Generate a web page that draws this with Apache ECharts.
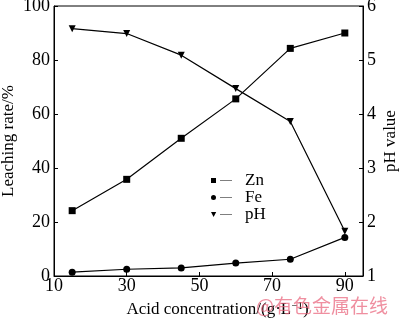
<!DOCTYPE html>
<html>
<head>
<meta charset="utf-8">
<script src="https://cdn.jsdelivr.net/npm/echarts@6/dist/echarts.min.js"></script>
<style>
  html, body { margin: 0; padding: 0; background: #fff; }
  #chart { width: 400px; height: 322px; }
</style>
</head>
<body>
<div id="chart"></div>
<script>
  // acid concentration, g/L
  var acidConc = [15, 30, 45, 60, 75, 90]
  // leaching rate, %
  var znRate = [24.2, 35.8, 51, 65.6, 84.3, 90]
  var feRate = [1.4, 2.5, 3, 4.8, 6.2, 14.3]
  // pH value
  var phValue = [5.58, 5.49, 5.09, 4.47, 3.86, 1.83]

  var serif = '"Liberation Serif", "Times New Roman", serif'
  var lineRest = ' M9,2.2H21V2.8H9Z'
  var icons = {
    Zn: 'path://M0,0H5V5H0Z' + lineRest,
    Fe: 'path://M0,2.5A2.5,2.5,0,1,1,5,2.5A2.5,2.5,0,1,1,0,2.5Z' + lineRest,
    pH: 'path://M0,0H5.2L2.6,5Z' + lineRest,
  }

  function pairs(ys) {
    return acidConc.map((x, i) => [x, ys[i]])
  }

  var chart = echarts.init(document.getElementById('chart'))
  var axisLine = { lineStyle: { color: '#000', width: 1 } }
  var tick = { inside: true, length: 4, lineStyle: { color: '#000' } }
  var label = { color: '#000', fontFamily: serif, fontSize: 18 }

  chart.setOption({
    animation: false,
    textStyle: { fontFamily: serif },
    grid: {
      left: 54, right: 37, top: 6, bottom: 46,
      outerBoundsMode: 'none', containLabel: false,
      show: true, borderColor: '#000', borderWidth: 1,
    },
    legend: {
      orient: 'vertical',
      left: 206,
      top: 167,
      itemWidth: 21,
      itemHeight: 5,
      itemGap: 0,
      textStyle: { fontFamily: serif, fontSize: 17, color: '#000', padding: [0, 0, 0, 8] },
      data: ['Zn', 'Fe', 'pH'].map(n => ({ name: n, icon: icons[n] })),
    },
    xAxis: {
      type: 'value',
      min: 10,
      max: 95,
      interval: 20,
      name: 'Acid concentration/(g·L{sup|−1})',
      nameLocation: 'middle',
      nameGap: 25,
      nameMoveOverlap: false,
      nameTextStyle: {
        fontFamily: serif, fontSize: 17, color: '#000', padding: [0, 0, 0, 18],
        rich: { sup: { fontFamily: serif, fontSize: 11, verticalAlign: 'top', padding: [0, 0, 7, 0] } },
      },
      axisLine: axisLine,
      axisTick: tick,
      axisLabel: Object.assign({ showMaxLabel: false, margin: 1 }, label),
      splitLine: { show: false },
    },
    yAxis: [
      {
        type: 'value',
        min: 0,
        max: 100,
        interval: 20,
        name: 'Leaching rate/%',
        nameLocation: 'middle',
        nameGap: 37,
        nameMoveOverlap: false,
        nameTextStyle: { fontFamily: serif, fontSize: 17, color: '#000' },
        axisLine: axisLine,
        axisTick: tick,
        axisLabel: Object.assign({ margin: 4 }, label),
        splitLine: { show: false },
      },
      {
        type: 'value',
        min: 1,
        max: 6,
        interval: 1,
        position: 'right',
        name: 'pH value',
        nameLocation: 'middle',
        nameGap: 19,
        nameMoveOverlap: false,
        nameTextStyle: { fontFamily: serif, fontSize: 17, color: '#000' },
        axisLine: axisLine,
        axisTick: tick,
        axisLabel: Object.assign({ margin: 4 }, label),
        splitLine: { show: false },
      },
    ],
    series: [
      {
        name: 'Zn', type: 'line', data: pairs(znRate),
        symbol: 'rect', symbolSize: 7,
        itemStyle: { color: '#000' }, lineStyle: { color: '#000', width: 1.2 },
      },
      {
        name: 'Fe', type: 'line', data: pairs(feRate),
        symbol: 'circle', symbolSize: 7,
        itemStyle: { color: '#000' }, lineStyle: { color: '#000', width: 1.2 },
      },
      {
        name: 'pH', type: 'line', yAxisIndex: 1, data: pairs(phValue),
        symbol: 'triangle', symbolRotate: 180, symbolSize: 7,
        itemStyle: { color: '#000' }, lineStyle: { color: '#000', width: 1.2 },
      },
    ],
    graphic: [
      {
        type: 'text', right: 12, top: 296, z: 100,
        style: {
          text: '@有色金属在线', fontFamily: '"Noto Sans CJK SC", sans-serif', fontSize: 19,
          fill: 'rgba(232, 96, 120, 0.7)',
        },
      },
    ],
  })
</script>
</body>
</html>
